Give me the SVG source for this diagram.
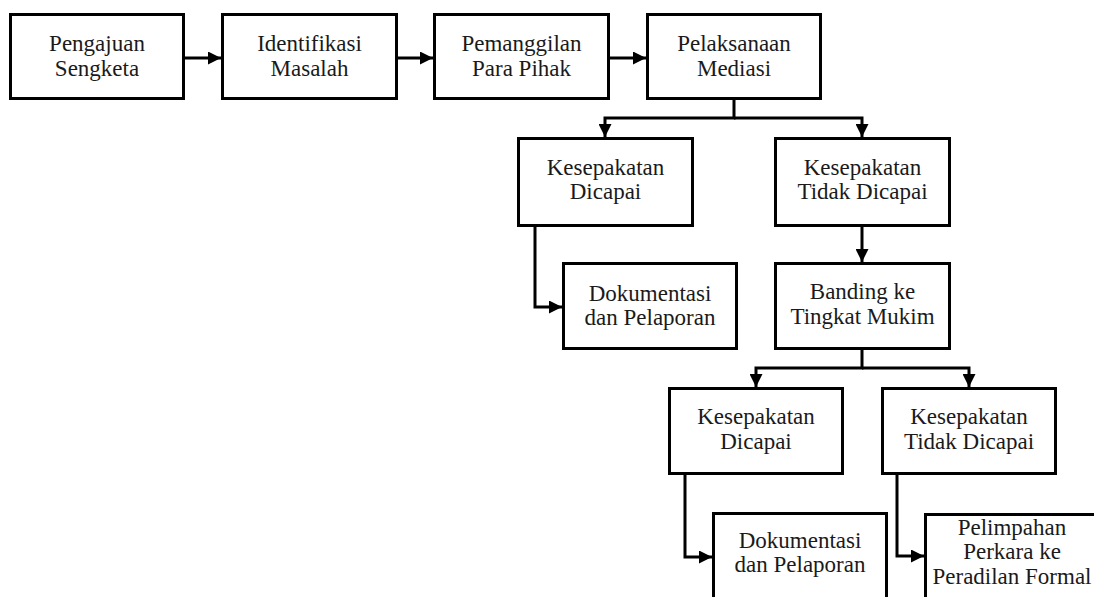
<svg xmlns="http://www.w3.org/2000/svg" width="1094" height="597" viewBox="0 0 1094 597">
<style>
.box{fill:#fff;stroke:#000;stroke-width:3}
.lbl{font-family:'Liberation Serif','DejaVu Serif',serif;font-size:23px;fill:#1a1a1a;text-anchor:middle}
.conn{fill:none;stroke:#000;stroke-width:3}
</style>
<defs>
<marker id="ah" markerUnits="userSpaceOnUse" markerWidth="13" markerHeight="13" refX="13" refY="6.5" orient="auto" viewBox="0 0 13 13">
<path d="M0,0 L13,6.5 L0,13 z" fill="#000"/>
</marker>
</defs>
<rect width="1094" height="597" fill="#fff"/>
<g id="connectors">
<path class="conn" d="M185 58 H221" marker-end="url(#ah)"/>
<path class="conn" d="M398 58 H433" marker-end="url(#ah)"/>
<path class="conn" d="M610 58 H646" marker-end="url(#ah)"/>
<path class="conn" d="M734 100 V118 H605 V137" marker-end="url(#ah)"/>
<path class="conn" d="M734 118 H862 V137" marker-end="url(#ah)"/>
<path class="conn" d="M535 227 V307 H562" marker-end="url(#ah)"/>
<path class="conn" d="M862 227 V262" marker-end="url(#ah)"/>
<path class="conn" d="M862 350 V368 H756 V387" marker-end="url(#ah)"/>
<path class="conn" d="M862 368 H969 V387" marker-end="url(#ah)"/>
<path class="conn" d="M685 475 V557 H712" marker-end="url(#ah)"/>
<path class="conn" d="M897 475 V556 H924" marker-end="url(#ah)"/>
</g>
<g id="n1"><rect class="box" x="10.5" y="14.5" width="173" height="84"/><text class="lbl" x="97" y="51">Pengajuan</text><text class="lbl" x="97" y="75.5">Sengketa</text></g>
<g id="n2"><rect class="box" x="222.5" y="14.5" width="174" height="84"/><text class="lbl" x="309.5" y="51">Identifikasi</text><text class="lbl" x="309.5" y="75.5">Masalah</text></g>
<g id="n3"><rect class="box" x="434.5" y="14.5" width="174" height="84"/><text class="lbl" x="521.5" y="51">Pemanggilan</text><text class="lbl" x="521.5" y="75.5">Para Pihak</text></g>
<g id="n4"><rect class="box" x="647.5" y="14.5" width="173" height="84"/><text class="lbl" x="734" y="51">Pelaksanaan</text><text class="lbl" x="734" y="75.5">Mediasi</text></g>
<g id="n5"><rect class="box" x="518.5" y="138.5" width="174" height="87"/><text class="lbl" x="605.5" y="174.5">Kesepakatan</text><text class="lbl" x="605.5" y="199">Dicapai</text></g>
<g id="n6"><rect class="box" x="775.5" y="138.5" width="174" height="87"/><text class="lbl" x="862.5" y="174.5">Kesepakatan</text><text class="lbl" x="862.5" y="199">Tidak Dicapai</text></g>
<g id="n7"><rect class="box" x="563.5" y="263.5" width="173" height="85"/><text class="lbl" x="650" y="300.5">Dokumentasi</text><text class="lbl" x="650" y="325">dan Pelaporan</text></g>
<g id="n8"><rect class="box" x="775.5" y="263.5" width="174" height="85"/><text class="lbl" x="862.5" y="299">Banding ke</text><text class="lbl" x="862.5" y="323.5">Tingkat Mukim</text></g>
<g id="n9"><rect class="box" x="669.5" y="388.5" width="173" height="85"/><text class="lbl" x="756" y="424">Kesepakatan</text><text class="lbl" x="756" y="448.5">Dicapai</text></g>
<g id="n10"><rect class="box" x="882.5" y="388.5" width="173" height="85"/><text class="lbl" x="969" y="424">Kesepakatan</text><text class="lbl" x="969" y="448.5">Tidak Dicapai</text></g>
<g id="n11"><rect class="box" x="713.5" y="513.5" width="173" height="86"/><text class="lbl" x="800" y="547.5">Dokumentasi</text><text class="lbl" x="800" y="572">dan Pelaporan</text></g>
<g id="n12"><rect class="box" x="925.5" y="514.5" width="173" height="86"/><text class="lbl" x="1012" y="534.5">Pelimpahan</text><text class="lbl" x="1012" y="559">Perkara ke</text><text class="lbl" x="1012" y="583.5">Peradilan Formal</text></g>
</svg>
